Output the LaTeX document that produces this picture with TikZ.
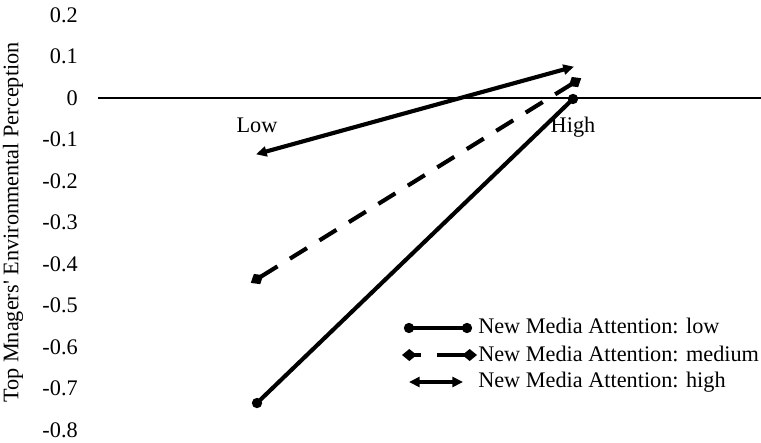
\documentclass[tikz,border=0pt]{standalone}
\usepackage{fontspec}
\setmainfont{Liberation Serif}[Ligatures=TeXOff]
\usetikzlibrary{arrows.meta}

\begin{document}
\begin{tikzpicture}[x=0.75pt,y=-0.75pt,
  every node/.style={font=\fontsize{16.7}{19}\selectfont, inner sep=0pt},
  ticklab/.style={anchor=east},
  catlab/.style={anchor=base},
  leglab/.style={anchor=base west},
  series/.style={line width=3.1pt},
  lowser/.style={series, {Circle[length=7.5pt]}-{Circle[length=7.5pt]}},
  medser/.style={series, dash pattern=on 15pt off 11pt,
                 {Diamond[length=11pt,width=9pt]}-{Diamond[length=11pt,width=9pt]}},
  highser/.style={series, {Triangle[length=8pt,width=7.5pt]}-{Triangle[length=8pt,width=7.5pt]}}]

\useasboundingbox (0,0) rectangle (761,443);

% vertical axis title
\node[rotate=90] (ytitle) at (13,222.5) {Top Mnagers' Environmental Perception};

% tick labels
\node[ticklab] (t1)  at (78,15)    {0.2};
\node[ticklab] (t2)  at (78,56.5)  {0.1};
\node[ticklab] (t3)  at (78,98)    {0};
\node[ticklab] (t4)  at (78,139.5) {-0.1};
\node[ticklab] (t5)  at (78,181)   {-0.2};
\node[ticklab] (t6)  at (78,222.5) {-0.3};
\node[ticklab] (t7)  at (78,264)   {-0.4};
\node[ticklab] (t8)  at (78,305.5) {-0.5};
\node[ticklab] (t9)  at (78,347)   {-0.6};
\node[ticklab] (t10) at (78,388.5) {-0.7};
\node[ticklab] (t11) at (78,430)   {-0.8};

% horizontal axis at zero
\coordinate (axL) at (98,98);
\coordinate (axR) at (761,98);
\draw[line width=1pt] (axL) -- (axR);

% category labels
\node[catlab] (lowlab)  at (257,132) {Low};
\node[catlab] (highlab) at (573,132) {High};

% series end points
\coordinate (lowA)  at (253.4,406.5);
\coordinate (lowB)  at (576.6,95.5);
\coordinate (medA)  at (250.8,282.9);
\coordinate (medB)  at (581.2,78.2);
\coordinate (highA) at (256,154.3);
\coordinate (highB) at (574,66.7);

\draw[lowser]  (lowA)  -- (lowB);
\draw[medser]  (medA)  -- (medB);
\draw[highser] (highA) -- (highB);

% legend
\coordinate (lg1a) at (404,328);
\coordinate (lg1b) at (472,328);
\coordinate (lg2a) at (402,355);
\coordinate (lg2b) at (477,355);
\coordinate (lg3a) at (409,382);
\coordinate (lg3b) at (463,382);

\draw[lowser] (lg1a) -- (lg1b);
\draw[medser, dash pattern=on 6pt off 12pt on 30pt] (lg2a) -- (lg2b);
\draw[highser] (lg3a) -- (lg3b);

\node[leglab] (leg1) at (478,333) {New Media Attention: low};
\node[leglab] (leg2) at (478,361) {New Media Attention: medium};
\node[leglab] (leg3) at (478,387) {New Media Attention: high};
\end{tikzpicture}
\end{document}
